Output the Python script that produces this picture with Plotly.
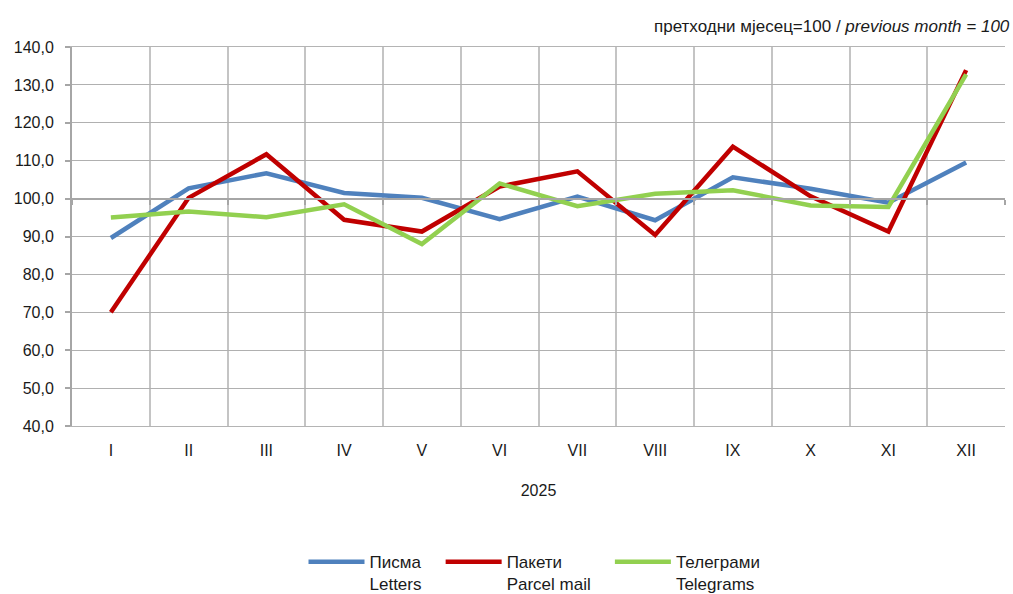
import plotly.graph_objects as go

months = ["I", "II", "III", "IV", "V", "VI", "VII", "VIII", "IX", "X", "XI", "XII"]
letters = [89.6, 102.7, 106.7, 101.5, 100.2, 94.6, 100.5, 94.3, 105.6, 102.6, 98.9, 109.5]
parcels = [70.0, 100.2, 111.7, 94.4, 91.3, 103.2, 107.2, 90.4, 113.7, 100.6, 91.3, 133.9]
telegrams = [95.0, 96.6, 95.1, 98.5, 88.0, 104.0, 98.0, 101.3, 102.2, 98.2, 97.8, 132.8]

names = ["Писма<br>Letters", "Пакети<br>Parcel mail", "Телеграми<br>Telegrams"]
colors = ["#4f81bd", "#c00000", "#92d050"]
series = [letters, parcels, telegrams]

FONT = "Liberation Sans, Arial, sans-serif"
PAD = "&nbsp;" * 3  # extra gap between legend entries

fig = go.Figure()
for nm, col, vals in zip(names, colors, series):
    fig.add_trace(go.Scatter(x=months, y=vals, mode="lines", name=nm + PAD,
                             line=dict(color=col, width=4.5)))

# invisible trace for the axis drawn at 100
fig.add_trace(go.Scatter(x=months, y=[None] * len(months), xaxis="x2",
                         showlegend=False, hoverinfo="skip"))

fig.update_layout(
    width=1013, height=594,
    margin=dict(l=72, r=8, t=47, b=168, autoexpand=False),
    paper_bgcolor="white", plot_bgcolor="white",
    separators=", ",
    font=dict(family=FONT, size=16, color="#1a1a1a"),
    xaxis=dict(
        type="category", tickson="boundaries", showgrid=True,
        gridcolor="#c4c4c4", gridwidth=1.5,
        showline=True, linecolor="#b4b4b4", linewidth=1, mirror=True,
        ticks="", ticklabelstandoff=10, automargin=False,
        range=[-0.5, 11.5],
        title=dict(text="2025", standoff=26, font=dict(size=16)),
        zeroline=False,
    ),
    xaxis2=dict(
        type="category", overlaying="x", anchor="free", position=0.6,
        tickson="boundaries", range=[-0.5, 11.5], matches="x",
        showgrid=False, showline=True, linecolor="#a6a6a6", linewidth=2,
        ticks="outside", ticklen=5, tickcolor="#a6a6a6", tickwidth=2,
        showticklabels=False, side="bottom", automargin=False,
    ),
    yaxis=dict(
        range=[40, 140], dtick=10, tick0=40, tickformat=".1f",
        showgrid=True, gridcolor="#b0b0b0", gridwidth=1,
        showline=True, linecolor="#a6a6a6", linewidth=2,
        ticks="outside", ticklen=5, tickcolor="#a6a6a6", tickwidth=2,
        ticklabelstandoff=8, zeroline=False, automargin=False,
    ),
    legend=dict(
        orientation="h", x=0.5, xanchor="center",
        yref="container", y=0.084, yanchor="top",
        font=dict(size=17), valign="top", itemwidth=56,
        traceorder="normal",
    ),
    annotations=[dict(
        xref="paper", yref="paper", x=1.0, y=1.0, yshift=21, xshift=7,
        xanchor="right", yanchor="middle", showarrow=False,
        text="претходни мјесец=100 / <i>previous month = 100</i>",
        font=dict(size=17, family=FONT, color="#1a1a1a"),
    )],
)

fig.write_html("out.html", config={"displayModeBar": False},
               post_script="document.body.style.margin='0';")
